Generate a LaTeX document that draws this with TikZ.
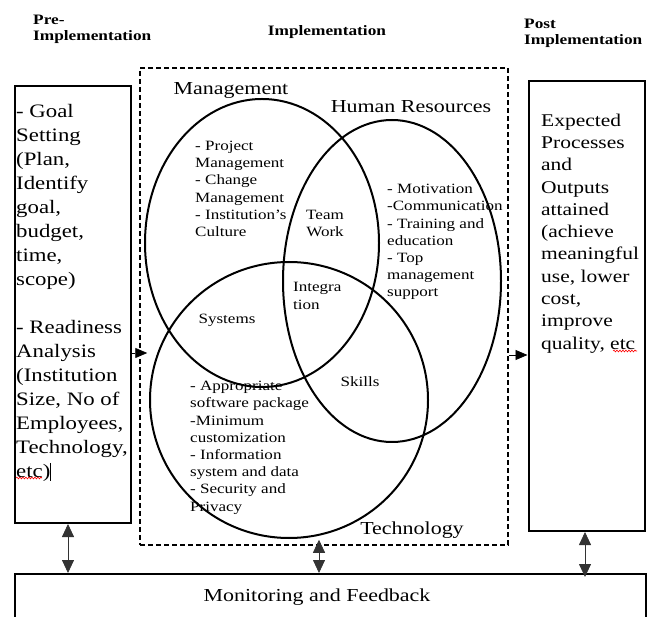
\documentclass[tikz,border=0pt]{standalone}
\usepackage{fontspec}
\setmainfont[FakeStretch=1.2]{Liberation Serif}
\usetikzlibrary{arrows.meta,decorations.pathmorphing}

\begin{document}
\begin{tikzpicture}[x = 1pt, y = -1pt,
    heading/.style = {font = \fontsize{14.4}{15.5}\selectfont\bfseries, align = left, inner sep = 0pt},
    boxtext/.style = {font = \fontsize{19}{24}\selectfont, align = left, inner sep = 0pt},
    venntext/.style = {font = \fontsize{14.2}{17.2}\selectfont, align = left, inner sep = 0pt},
    setname/.style = {font = \fontsize{18.3}{22}\selectfont, inner sep = 0pt},
    phase/.style = {draw, line width = 2pt, inner sep = 0pt},
    oneway/.style = {-{Triangle[width = 10pt, length = 12pt]}, line width = 0.8pt},
    twoway/.style = {{Triangle[width = 12pt, length = 13pt]}-{Triangle[width = 12pt, length = 13pt]}, line width = 0.8pt, black!80},
    spell/.style = {red, line width = 0.6pt, decorate, decoration = {snake, amplitude = 0.9pt, segment length = 3pt}}]
    \path [use as bounding box, clip] (0,0) rectangle (651,617);
    \node [heading, anchor = north west] (preTitle) at (33,15) {Pre-\\Implementation};
    \node [heading] (implTitle) at (327,32) {Implementation};
    \node [heading, anchor = north west] (postTitle) at (524,19) {Post\\Implementation};

    \node [phase, minimum width = 116pt, minimum height = 437pt] (pre) at (73,304.5) {};
    \node [phase, dash pattern = on 5pt off 3pt, line width = 1.5pt, minimum width = 368pt, minimum height = 477pt] (impl) at (324,306.5) {};
    \node [phase, minimum width = 116pt, minimum height = 450pt] (post) at (586.5,306) {};
    \node [phase, minimum width = 631pt, minimum height = 60pt] (monitor) at (330.5,604) {};

    \node [boxtext, anchor = north west] (preText) at (16,104)
        {- Goal\\Setting\\(Plan,\\Identify\\goal,\\budget,\\time,\\scope)\\[24pt]- Readiness\\Analysis\\(Institution\\Size, No of\\Employees,\\Technology,\\etc)};
    \node [boxtext, font = \fontsize{17.9}{22.3}\selectfont, anchor = north west] (postText) at (541,113.5)
        {Expected\\Processes\\and\\Outputs\\attained\\(achieve\\meaningful\\use, lower\\cost,\\improve\\quality, etc};

    \draw [line width = 2pt] (262,243) ellipse [x radius = 117pt, y radius = 144pt];
    \draw [line width = 2pt] (392,281) ellipse [x radius = 109pt, y radius = 161pt];
    \draw [line width = 2pt] (289,400) ellipse [x radius = 139pt, y radius = 138pt];

    \node [setname] (mgmt) at (231,90) {Management};
    \node [setname] (hr) at (411,107) {Human Resources};
    \node [setname] (tech) at (412,530) {Technology};

    \node [venntext, anchor = north west] (mgmtList) at (195,141)
        {- Project\\Management\\- Change\\Management\\- Institution's\\Culture};
    \node [venntext, anchor = north west] (hrList) at (387,184)
        {- Motivation\\-Communication\\- Training and\\education\\- Top\\management\\support};
    \node [venntext, anchor = north west] (techList) at (190,381)
        {- Appropriate\\software package\\-Minimum\\customization\\- Information\\system and data\\- Security and\\Privacy};
    \node [venntext, align = center] (team) at (325,223.5) {Team\\Work};
    \node [venntext, anchor = west] (integ) at (293,296) {Integra\\tion};
    \node [venntext] (sys) at (227,320) {Systems};
    \node [venntext] (skills) at (360,382) {Skills};

    \node [setname] (monitorText) at (317,597) {Monitoring and Feedback};

    \draw [oneway] ([yshift = -48.5pt]pre.east) -- ([xshift = 8pt, yshift = -46.5pt]impl.west);
    \draw [oneway] ([yshift = -48.5pt]impl.east) -- ([yshift = -49pt]post.west);
    \draw [twoway] ([xshift = -5pt]pre.south) -- ([xshift = -5pt]pre.south |- monitor.north);
    \draw [twoway] ([xshift = -5pt, yshift = 6pt]impl.south) -- ([xshift = -5pt]impl.south |- monitor.north);
    \draw [twoway] ([xshift = -1.5pt]post.south) -- ([xshift = -1.5pt, yshift = -4pt]post.south |- monitor.north);

    \draw [spell] (613,351) -- (637,351);
    \draw [spell] (16,478) -- (42,478);
    \draw [line width = 0.8pt] (50,463) -- (50,481);
\end{tikzpicture}
\end{document}
